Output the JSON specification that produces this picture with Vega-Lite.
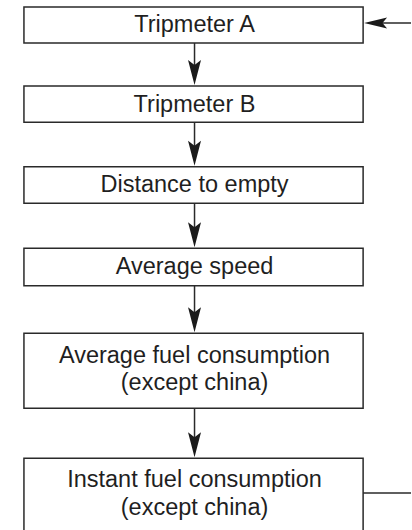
{
  "$schema": "https://vega.github.io/schema/vega-lite/v6.json",
  "width": 412,
  "height": 530,
  "padding": 0,
  "autosize": {"type": "fit", "contains": "padding"},
  "background": "white",
  "config": {"view": {"stroke": null}},
  "datasets": {
    "boxes": [
      {"name": "Tripmeter A", "x1": 24, "x2": 364, "y1": 7, "y2": 43},
      {"name": "Tripmeter B", "x1": 24, "x2": 364, "y1": 86, "y2": 122.3},
      {"name": "Distance to empty", "x1": 24, "x2": 364, "y1": 166.7, "y2": 203.3},
      {"name": "Average speed", "x1": 24, "x2": 364, "y1": 248.3, "y2": 285.7},
      {"name": "Average fuel consumption", "x1": 24, "x2": 364, "y1": 333.3, "y2": 408.3},
      {"name": "Instant fuel consumption", "x1": 24, "x2": 364, "y1": 458.3, "y2": 540}
    ],
    "lines": [
      {"x1": 195, "x2": 195, "y1": 43, "y2": 75},
      {"x1": 195, "x2": 195, "y1": 122.3, "y2": 155},
      {"x1": 195, "x2": 195, "y1": 203.3, "y2": 237},
      {"x1": 195, "x2": 195, "y1": 285.7, "y2": 322},
      {"x1": 195, "x2": 195, "y1": 408.3, "y2": 447},
      {"x1": 374, "x2": 412, "y1": 23, "y2": 23},
      {"x1": 364, "x2": 412, "y1": 493, "y2": 493}
    ],
    "heads": [
      {"dir": "down", "x": 195, "y": 72.5},
      {"dir": "down", "x": 195, "y": 153.2},
      {"dir": "down", "x": 195, "y": 234.8},
      {"dir": "down", "x": 195, "y": 319.8},
      {"dir": "down", "x": 195, "y": 444.8},
      {"dir": "left", "x": 376.5, "y": 23}
    ],
    "labels": [
      {"text": "Tripmeter A", "x": 195, "y": 32},
      {"text": "Tripmeter B", "x": 195, "y": 111.8},
      {"text": "Distance to empty", "x": 195, "y": 191.5},
      {"text": "Average speed", "x": 195, "y": 274},
      {"text": "Average fuel consumption", "x": 195, "y": 362.7},
      {"text": "(except china)", "x": 195, "y": 390},
      {"text": "Instant fuel consumption", "x": 195, "y": 487.3},
      {"text": "(except china)", "x": 195, "y": 515}
    ]
  },
  "layer": [
    {
      "data": {"name": "boxes"},
      "mark": {"type": "rect", "fill": "white", "stroke": "#2a2a2a", "strokeWidth": 1.5, "clip": true},
      "encoding": {
        "x": {"field": "x1", "type": "quantitative", "scale": {"domain": [0, 412], "nice": false, "zero": false}, "axis": null},
        "x2": {"field": "x2"},
        "y": {"field": "y1", "type": "quantitative", "scale": {"domain": [0, 530], "nice": false, "zero": false, "reverse": true}, "axis": null},
        "y2": {"field": "y2"}
      }
    },
    {
      "data": {"name": "lines"},
      "mark": {"type": "rule", "stroke": "#2a2a2a", "strokeWidth": 1.5},
      "encoding": {
        "x": {"field": "x1", "type": "quantitative", "scale": {"domain": [0, 412], "nice": false, "zero": false}, "axis": null},
        "x2": {"field": "x2"},
        "y": {"field": "y1", "type": "quantitative", "scale": {"domain": [0, 530], "nice": false, "zero": false, "reverse": true}, "axis": null},
        "y2": {"field": "y2"}
      }
    },
    {
      "data": {"name": "heads"},
      "mark": {"type": "point", "filled": true, "opacity": 1, "color": "#1a1a1a", "strokeWidth": 0},
      "encoding": {
        "x": {"field": "x", "type": "quantitative", "scale": {"domain": [0, 412], "nice": false, "zero": false}, "axis": null},
        "y": {"field": "y", "type": "quantitative", "scale": {"domain": [0, 530], "nice": false, "zero": false, "reverse": true}, "axis": null},
        "shape": {"field": "dir", "type": "nominal", "scale": {"domain": ["down", "left"], "range": ["M0,1 L-0.52,-1 L0,-0.6 L0.52,-1 Z", "M-1,0 L1,-0.47 L0.6,0 L1,0.47 Z"]}, "legend": null},
        "size": {"field": "dir", "type": "nominal", "scale": {"domain": ["down", "left"], "range": [625, 529]}, "legend": null}
      }
    },
    {
      "data": {"name": "labels"},
      "mark": {"type": "text", "font": "Liberation Sans", "fontSize": 23.5, "color": "#1f1f1f", "align": "center", "baseline": "alphabetic"},
      "encoding": {
        "x": {"field": "x", "type": "quantitative", "scale": {"domain": [0, 412], "nice": false, "zero": false}, "axis": null},
        "y": {"field": "y", "type": "quantitative", "scale": {"domain": [0, 530], "nice": false, "zero": false, "reverse": true}, "axis": null},
        "text": {"field": "text"}
      }
    }
  ]
}
